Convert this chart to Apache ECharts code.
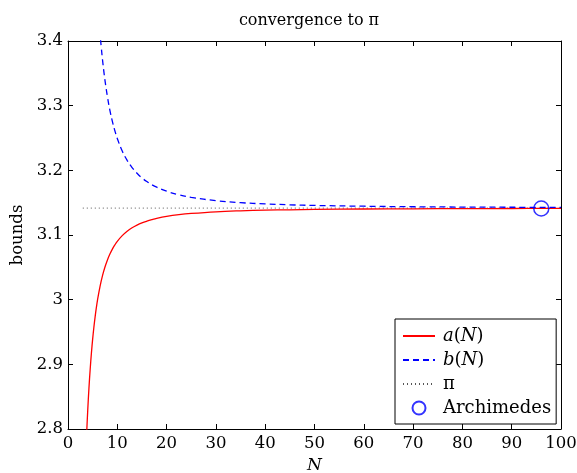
<!DOCTYPE html>
<html>
<head>
<meta charset="utf-8">
<script src="https://cdn.jsdelivr.net/npm/echarts@6/dist/echarts.min.js"></script>
<style>html,body{margin:0;padding:0;background:#fff}#c{width:577px;height:473px}</style>
</head>
<body>
<div id="c"></div>
<script>
const titleText = 'convergence to \u03c0';
const xTicks = [0, 10, 20, 30, 40, 50, 60, 70, 80, 90, 100];
const yTicks = [2.8, 2.9, 3, 3.1, 3.2, 3.3, 3.4];

const N_a = [3, 3.5, 3.75, 4, 4.25, 4.5, 4.75, 5, 5.25, 5.5, 5.75, 6, 6.5, 7, 7.5, 8, 8.5, 9, 9.5, 10, 11, 12, 13, 14, 15, 16, 17, 18, 20, 22.5, 25, 30, 35, 40, 45, 50, 60, 70, 80, 90, 100];
const a_vals = [2.5981, 2.7364, 2.7868, 2.8284, 2.8632, 2.8925, 2.9175, 2.9389, 2.9574, 2.9735, 2.9876, 3.0000, 3.0207, 3.0372, 3.0505, 3.0615, 3.0705, 3.0782, 3.0846, 3.0902, 3.0990, 3.1058, 3.1111, 3.1153, 3.1187, 3.1214, 3.1237, 3.1257, 3.1287, 3.1314, 3.1333, 3.1359, 3.1374, 3.1384, 3.1390, 3.1395, 3.1402, 3.1405, 3.1408, 3.1410, 3.1411];

const N_b = [6, 6.25, 6.5, 6.75, 7, 7.25, 7.5, 8, 8.5, 9, 9.5, 10, 11, 12, 13, 14, 15, 16, 17, 18, 20, 22.5, 25, 30, 35, 40, 45, 50, 60, 70, 80, 90, 100];
const b_vals = [3.4641, 3.4360, 3.4114, 3.3900, 3.3710, 3.3543, 3.3392, 3.3137, 3.2928, 3.2757, 3.2614, 3.2492, 3.2299, 3.2154, 3.2042, 3.1955, 3.1883, 3.1826, 3.1778, 3.1739, 3.1677, 3.1622, 3.1582, 3.1531, 3.1500, 3.1481, 3.1467, 3.1457, 3.1445, 3.1437, 3.1432, 3.1429, 3.1426];

const N_pi = [3, 100];
const pi_vals = [3.14159, 3.14159];

const N_arch = [96];
const arch_vals = [3.1410];

const seriesNames = ['a(N)', 'b(N)', '\u03c0', 'Archimedes'];

const zip = (xs, ys) => xs.map((x, i) => [x, ys[i]]);
const FONT = 'DejaVu Serif';
const TICK_FS = 16.5;

const chart = echarts.init(document.getElementById('c'), null, {renderer: 'canvas'});
const xCommon = {min: 0, max: 100, interval: 10};
const yCommon = {min: 2.8, max: 3.4, interval: 0.1};
const lineAx = {show: true, onZero: false, lineStyle: {color: '#000', width: 1}};
const tickAx = {show: true, inside: true, length: 5, lineStyle: {color: '#000'}};
chart.setOption({
  animation: false,
  backgroundColor: '#fff',
  title: {
    text: titleText, left: 304, textAlign: 'center', top: 8,
    textStyle: {fontFamily: FONT, fontSize: 16, fontWeight: 'normal', color: '#000'}
  },
  grid: {left: 68, right: 16, top: 41, bottom: 44, containLabel: false, outerBoundsMode: 'none'},
  xAxis: [
    Object.assign({type: 'value', position: 'bottom',
      name: 'N', nameLocation: 'middle', nameGap: 25,
      nameTextStyle: {fontFamily: FONT, fontSize: 17, fontStyle: 'italic', color: '#000'},
      axisLine: lineAx, axisTick: tickAx,
      axisLabel: {fontFamily: FONT, fontSize: TICK_FS, color: '#000', margin: 6,
        formatter: v => xTicks.includes(v) ? String(v) : ''},
      splitLine: {show: false}}, xCommon),
    Object.assign({type: 'value', position: 'top',
      axisLine: lineAx, axisTick: tickAx,
      axisLabel: {show: false}, splitLine: {show: false}}, xCommon)
  ],
  yAxis: [
    Object.assign({type: 'value', position: 'left',
      name: 'bounds', nameLocation: 'middle', nameGap: 39, nameRotate: 90,
      nameTextStyle: {fontFamily: FONT, fontSize: 16.5, color: '#000'},
      axisLine: lineAx, axisTick: tickAx,
      axisLabel: {fontFamily: FONT, fontSize: TICK_FS, color: '#000', margin: 5,
        formatter: v => { const t = yTicks.find(k => Math.abs(k - v) < 1e-9); return t === undefined ? '' : String(t); }},
      splitLine: {show: false}}, yCommon),
    Object.assign({type: 'value', position: 'right',
      axisLine: lineAx, axisTick: tickAx,
      axisLabel: {show: false}, splitLine: {show: false}}, yCommon)
  ],
  legend: {
    orient: 'vertical', left: 395, top: 319,
    data: [
      {name: seriesNames[0], itemStyle: {opacity: 0}},
      {name: seriesNames[1], itemStyle: {opacity: 0}},
      {name: seriesNames[2], itemStyle: {opacity: 0}},
      {name: seriesNames[3]}
    ],
    backgroundColor: '#fff', borderColor: '#000', borderWidth: 1, borderRadius: 0,
    padding: [7, 5, 6, 7],
    itemWidth: 32, itemHeight: 13, itemGap: 4,
    textStyle: {fontFamily: FONT, fontSize: 18, color: '#000', lineHeight: 20, padding: [0, 0, 0, 3],
      rich: {i: {fontFamily: FONT, fontSize: 18, fontStyle: 'italic', color: '#000', lineHeight: 20},
             r: {fontFamily: FONT, fontSize: 18, color: '#000', lineHeight: 20}}},
    formatter: name => {
      if (name === 'a(N)') return '{i|a}{r|(}{i|N}{r|)}';
      if (name === 'b(N)') return '{i|b}{r|(}{i|N}{r|)}';
      return name;
    }
  },
  series: [
    {name: seriesNames[0], type: 'line', data: zip(N_a, a_vals), showSymbol: false, symbol: 'none',
     smooth: 0.4, clip: true,
     lineStyle: {color: '#ff0000', width: 1.3}, itemStyle: {color: '#ff0000'}, z: 3},
    {name: seriesNames[1], type: 'line', data: zip(N_b, b_vals), showSymbol: false, symbol: 'none',
     smooth: 0.4, clip: true,
     lineStyle: {color: '#0000ff', width: 1.3, type: [6, 4]}, itemStyle: {color: '#0000ff'}, z: 4},
    {name: seriesNames[2], type: 'line', data: zip(N_pi, pi_vals), showSymbol: false, symbol: 'none',
     lineStyle: {color: '#555', width: 1, type: [1, 3]}, itemStyle: {color: '#555'}, z: 2},
    {name: seriesNames[3], type: 'scatter', data: zip(N_arch, arch_vals), symbol: 'circle', symbolSize: 15,
     itemStyle: {color: 'rgba(255,255,255,0)', borderColor: '#0000ff', borderWidth: 1.5}, z: 5}
  ]
});
</script>
</body>
</html>
